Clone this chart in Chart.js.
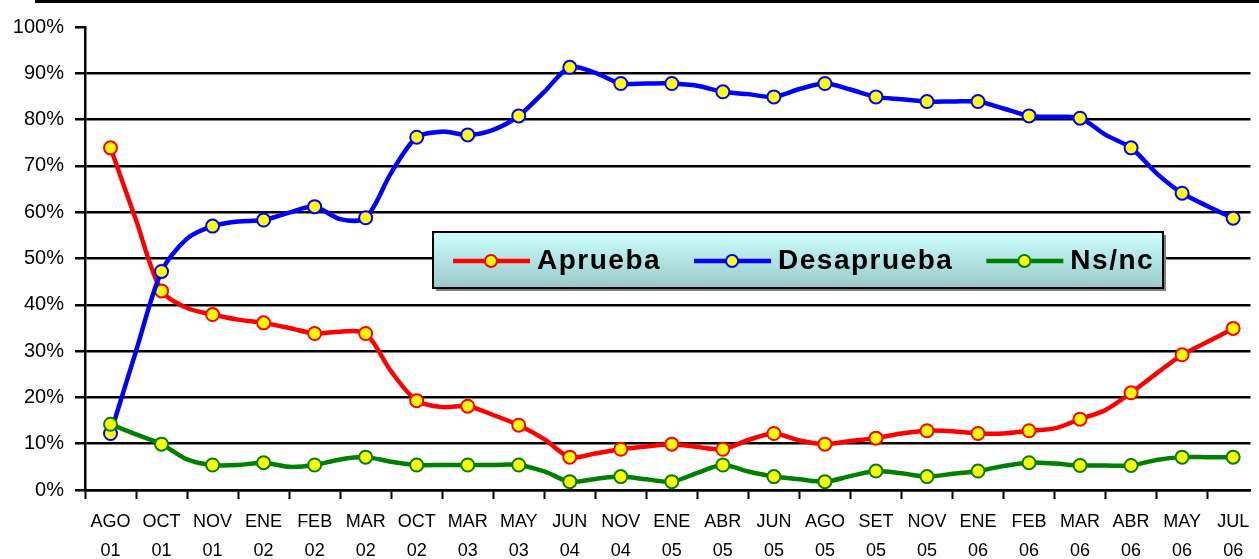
<!DOCTYPE html>
<html>
<head>
<meta charset="utf-8">
<script src="https://cdn.jsdelivr.net/npm/chart.js@4.4.1/dist/chart.umd.min.js"></script>
<style>
  html, body { margin: 0; padding: 0; background: #fff; overflow: hidden; }
  #wrap { width: 1259px; height: 559px; }
</style>
</head>
<body>
<div id="wrap"><canvas id="encuesta"></canvas></div>
<script>
// Categories (two-line tick labels)
const months = ['AGO','OCT','NOV','ENE','FEB','MAR','OCT','MAR','MAY','JUN','NOV','ENE','ABR','JUN','AGO','SET','NOV','ENE','FEB','MAR','ABR','MAY','JUL'];
const years  = ['01','01','01','02','02','02','02','03','03','04','04','05','05','05','05','05','05','06','06','06','06','06','06'];

// Values at the labelled (marked) surveys, %
const aprueba    = [73.9, 43.0, 37.9, 36.1, 33.8, 33.8, 19.3, 18.1, 14.0, 7.1, 8.8, 9.9, 8.8, 12.2, 9.9, 11.2, 12.8, 12.2, 12.8, 15.3, 21.0, 29.2, 34.9];
const desaprueba = [12.2, 47.2, 57.0, 58.3, 61.2, 58.8, 76.2, 76.7, 80.8, 91.3, 87.8, 87.8, 86.0, 84.9, 87.8, 84.9, 83.9, 83.9, 80.8, 80.3, 73.9, 64.1, 58.7];
const nsnc       = [14.2, 9.9, 5.4, 5.9, 5.4, 7.1, 5.4, 5.4, 5.4, 1.8, 2.9, 1.8, 5.4, 2.9, 1.8, 4.1, 2.9, 4.1, 5.9, 5.3, 5.3, 7.1, 7.1];

// Unmarked surveys between two labelled ones
const apruebaMid    = [58.3, 39.3, 36.8, 35.0, 34.2, 25.6, 17.9, 16.2, 11.0, 7.9, 9.4, 9.3, 10.8, 10.7, 10.6, 12.2, 12.7, 12.2, 13.3, 17.3, 25.2, 32.0];
const desapruebaMid = [30.0, 54.3, 58.0, 59.9, 58.5, 68.5, 77.4, 77.8, 86.0, 90.1, 87.8, 87.3, 85.5, 86.6, 86.5, 84.4, 83.9, 82.4, 80.6, 76.7, 68.4, 61.3];
const nsncMid       = [12.0, 6.6, 5.4, 5.0, 6.6, 6.1, 5.4, 5.4, 4.0, 2.4, 2.3, 3.7, 4.0, 2.3, 3.0, 3.6, 3.5, 5.2, 5.7, 5.3, 6.5, 7.1];

const yTicks = [0, 10, 20, 30, 40, 50, 60, 70, 80, 90, 100];

const FONT = '"Liberation Sans", Arial, sans-serif';

// merge marked and unmarked points into one x/y series
function series(vals, mids) {
  const out = [];
  vals.forEach((v, i) => {
    out.push({ x: i, y: v });
    if (i < mids.length) out.push({ x: i + 0.5, y: mids[i] });
  });
  return out;
}

function ds(label, color, vals, mids, order) {
  return {
    label,
    data: series(vals, mids),
    borderColor: color,
    borderWidth: 4.5,
    backgroundColor: '#ffff00',
    pointBackgroundColor: '#ffff00',
    pointBorderColor: color,
    pointBorderWidth: 2,
    pointRadius: c => Number.isInteger(c.raw.x) ? 6.5 : 0,
    tension: 0.3,
    order
  };
}

// top border of the chart object
const topRule = {
  id: 'topRule',
  afterDraw(chart) {
    const ctx = chart.ctx;
    ctx.save();
    ctx.strokeStyle = '#000';
    ctx.lineWidth = 3;
    ctx.beginPath();
    ctx.moveTo(35, 1.5);
    ctx.lineTo(chart.width, 1.5);
    ctx.stroke();
    ctx.restore();
  }
};

// boxed legend sitting inside the plot
const legendBox = {
  id: 'legendBox',
  afterDatasetsDraw(chart) {
    const ctx = chart.ctx;
    const bx = 433, by = 232, bw = 730, bh = 56;
    ctx.save();
    ctx.fillStyle = '#808080';
    ctx.fillRect(bx + 3, by + 3, bw, bh);
    const g = ctx.createLinearGradient(0, by, 0, by + bh);
    g.addColorStop(0, '#ccffff');
    g.addColorStop(1, '#99c9c9');
    ctx.fillStyle = g;
    ctx.fillRect(bx, by, bw, bh);
    ctx.strokeStyle = '#000';
    ctx.lineWidth = 2;
    ctx.strokeRect(bx, by, bw, bh);

    ctx.font = 'bold 28px ' + FONT;
    ctx.letterSpacing = '1.5px';
    ctx.textBaseline = 'middle';
    const cy = by + bh / 2 + 1;
    let x = 453;
    chart.data.datasets.slice().sort((a, b) => b.order - a.order).forEach(d => {
      ctx.strokeStyle = d.borderColor;
      ctx.lineWidth = 4.5;
      ctx.beginPath();
      ctx.moveTo(x, cy);
      ctx.lineTo(x + 77, cy);
      ctx.stroke();
      ctx.beginPath();
      ctx.arc(x + 38, cy, 6, 0, Math.PI * 2);
      ctx.fillStyle = '#ffff00';
      ctx.fill();
      ctx.lineWidth = 2;
      ctx.stroke();
      ctx.fillStyle = '#000';
      ctx.fillText(d.label, x + 84, cy);
      x += 84 + ctx.measureText(d.label).width + 33;
    });
    ctx.restore();
  }
};

new Chart(document.getElementById('encuesta'), {
  type: 'line',
  data: {
    datasets: [
      ds('Aprueba', '#ff0000', aprueba, apruebaMid, 2),
      ds('Desaprueba', '#0000ff', desaprueba, desapruebaMid, 1),
      ds('Ns/nc', '#008000', nsnc, nsncMid, 0)
    ]
  },
  options: {
    responsive: true,
    maintainAspectRatio: false,
    animation: false,
    layout: { padding: { top: 27, left: 0, right: 0, bottom: 0 } },
    plugins: { legend: { display: false }, tooltip: { enabled: false } },
    scales: {
      x: {
        type: 'linear',
        min: -0.5,
        max: 22.34,
        afterBuildTicks: s => {
          s.ticks = [];
          for (let v = -0.5; v <= 22; v += 0.5) s.ticks.push({ value: v });
        },
        afterFit: s => { s.height = 69; },
        grid: {
          drawOnChartArea: false,
          tickLength: 9,
          tickWidth: 2,
          tickColor: c => Number.isInteger(c.tick.value) ? 'rgba(0,0,0,0)' : '#000'
        },
        border: { color: '#000', width: 2.5 },
        ticks: {
          autoSkip: false,
          maxRotation: 0,
          minRotation: 0,
          padding: 9,
          color: '#000',
          font: { family: FONT, size: 18, lineHeight: 1.58 },
          callback: v => Number.isInteger(v) ? [months[v], years[v]] : ''
        }
      },
      y: {
        min: 0,
        max: 100,
        afterBuildTicks: s => { s.ticks = yTicks.map(v => ({ value: v })); },
        afterFit: s => { s.width = 85; },
        grid: {
          color: c => c.tick.value === 100 ? 'rgba(0,0,0,0)' : '#000',
          lineWidth: 2.5,
          tickLength: 10,
          tickColor: '#000',
          tickWidth: 2.5
        },
        border: { color: '#000', width: 2.5 },
        ticks: {
          padding: 11,
          color: '#000',
          font: { family: FONT, size: 20 },
          callback: v => v + '%'
        }
      }
    }
  },
  plugins: [legendBox, topRule]
});
</script>
</body>
</html>
